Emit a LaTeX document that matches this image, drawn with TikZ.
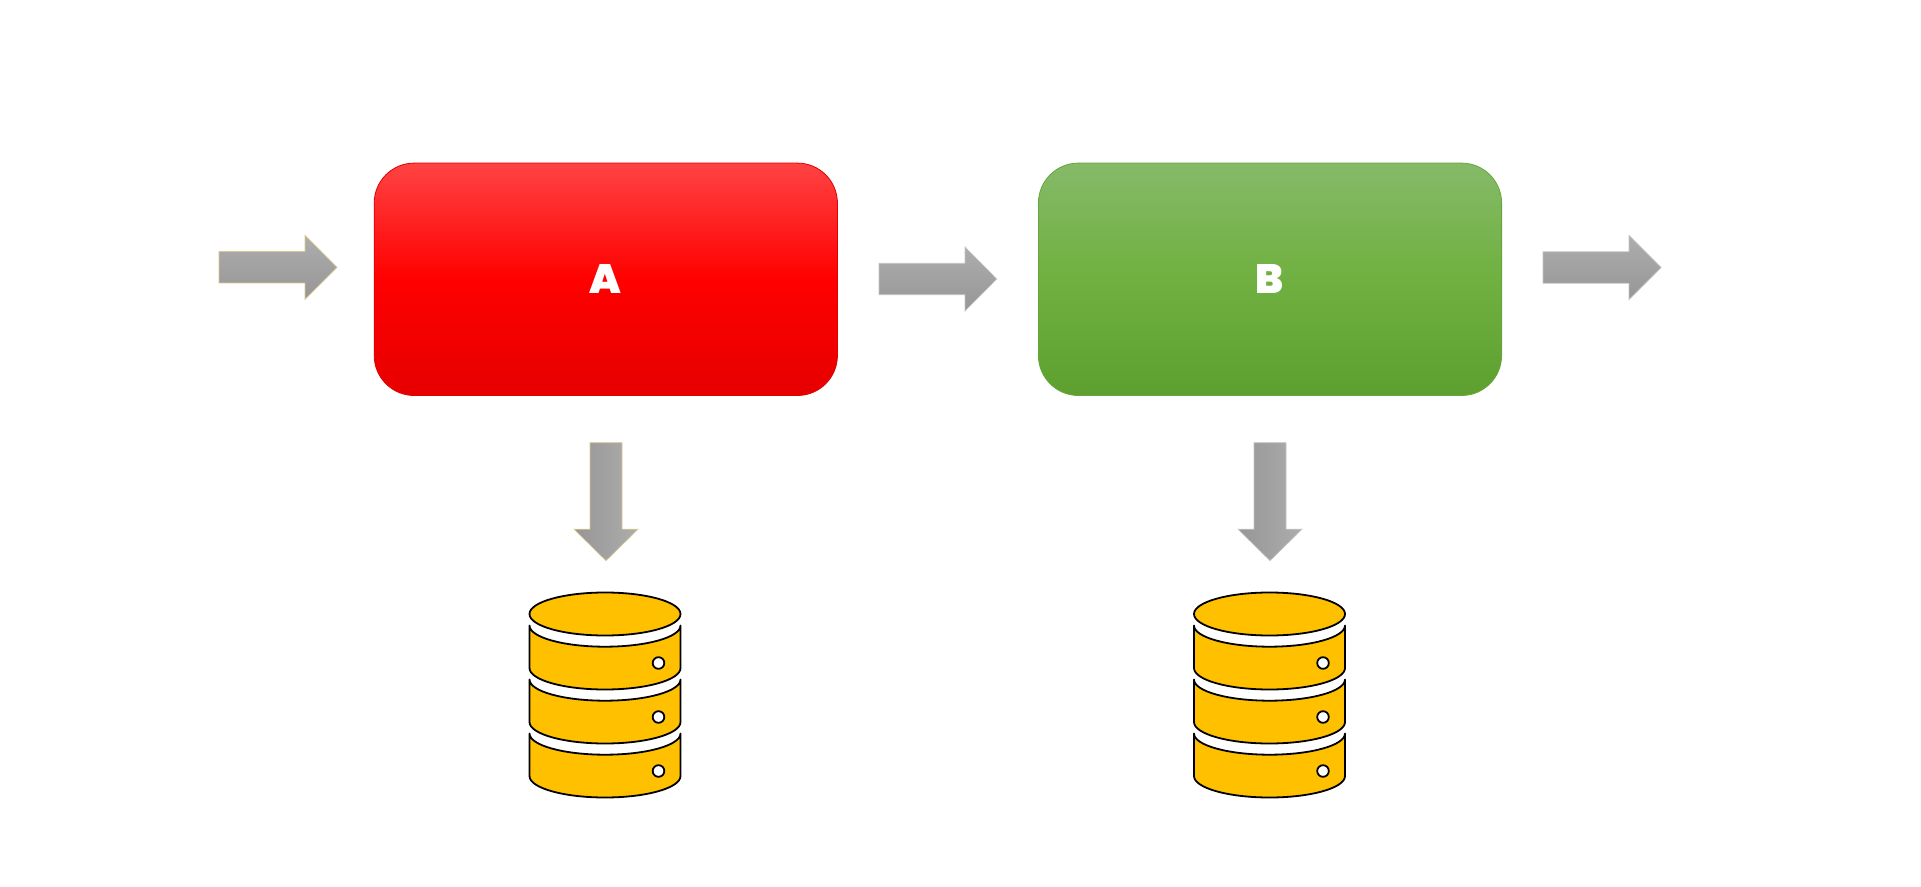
\documentclass[tikz,border=0pt]{standalone}
\usepackage{fontspec}
\setmainfont{Poppins}[BoldFont={Poppins Black}]
\definecolor{redT}{HTML}{FF4343}
\definecolor{redM}{HTML}{FF0000}
\definecolor{redB}{HTML}{E60000}
\definecolor{redE}{HTML}{E00000}
\definecolor{grnT}{HTML}{85BA68}
\definecolor{grnM}{HTML}{70B040}
\definecolor{grnB}{HTML}{5DA030}
\definecolor{grnE}{HTML}{66A63C}
\definecolor{arrL}{HTML}{ADADAD}
\definecolor{arrD}{HTML}{969696}
\definecolor{edgeTan}{HTML}{D8C890}
\definecolor{edgeGrey}{HTML}{C4C4C4}
\definecolor{dbfill}{HTML}{FFC000}
\tikzset{
  procbox/.style={rectangle,rounded corners=20pt,minimum width=231.6pt,minimum height=116.2pt,inner sep=0pt,line width=0.4pt,text=white,font=\fontsize{20.5}{20.5}\selectfont\bfseries},
  redbox/.style={procbox,draw=redE,top color=redT,bottom color=redB,middle color=redM},
  greenbox/.style={procbox,draw=grnE,top color=grnT,bottom color=grnB,middle color=grnM},
  harrow/.style={top color=arrL,bottom color=arrD,line width=0.35pt,line join=miter},
  varrow/.style={left color=arrD,right color=arrL,line width=0.35pt,line join=miter},
  dbpart/.style={draw=black,fill=dbfill,line width=0.9pt,line join=round},
  dbdot/.style={draw=black,fill=white,line width=0.9pt}
}
\newcommand{\rightblock}[6]{% x0, xhead, xtip, ymid, style, edge
  \path[harrow,draw=#6] (#1,#4-15.7) -- (#2,#4-15.7) -- (#2,#4-32) -- (#3,#4) -- (#2,#4+32) -- (#2,#4+15.7) -- (#1,#4+15.7) -- cycle;
}
\newcommand{\downblock}[2]{% xmid, edge
  \path[varrow,draw=#2] (#1-16,442.7) -- (#1+16,442.7) -- (#1+16,529.2) -- (#1+32,529.2) -- (#1,560.7) -- (#1-32,529.2) -- (#1-16,529.2) -- cycle;
}
\newcommand{\dbbarrel}[1]{%
  \begin{scope}[shift={(0,#1)}]
    \draw[dbpart] (-75.5,625.5) arc[start angle=180,end angle=360,x radius=37.75pt,y radius=10.6pt] -- (75.5,668) arc[start angle=0,end angle=-180,x radius=37.75pt,y radius=10.75pt] -- cycle;
    \draw[dbdot] (53.5,663) circle[radius=2.9pt];
  \end{scope}
}
\newcommand{\dbstack}[1]{%
  \begin{scope}[shift={(#1,0)}]
    \draw[dbpart] (0,614) ellipse[x radius=37.75pt,y radius=10.75pt];
    \dbbarrel{0}\dbbarrel{54}\dbbarrel{108}
  \end{scope}
}
\begin{document}
\begin{tikzpicture}[x=0.5pt,y=-0.5pt]
  \useasboundingbox (0,0) rectangle (1921,887);
  \fill[white] (0,0) rectangle (1921,887);
  \node[redbox] (A) at (605.8,279.3) {A};
  \node[greenbox] (B) at (1270,279.3) {B};
  \rightblock{219}{305}{337}{267.3}{}{edgeTan}
  \rightblock{879}{965}{996.7}{279}{}{edgeGrey}
  \rightblock{1543}{1629}{1661}{267.5}{}{edgeGrey}
  \downblock{606}{edgeTan}
  \downblock{1270}{edgeGrey}
  \dbstack{605}
  \dbstack{1269.5}
\end{tikzpicture}
\end{document}
